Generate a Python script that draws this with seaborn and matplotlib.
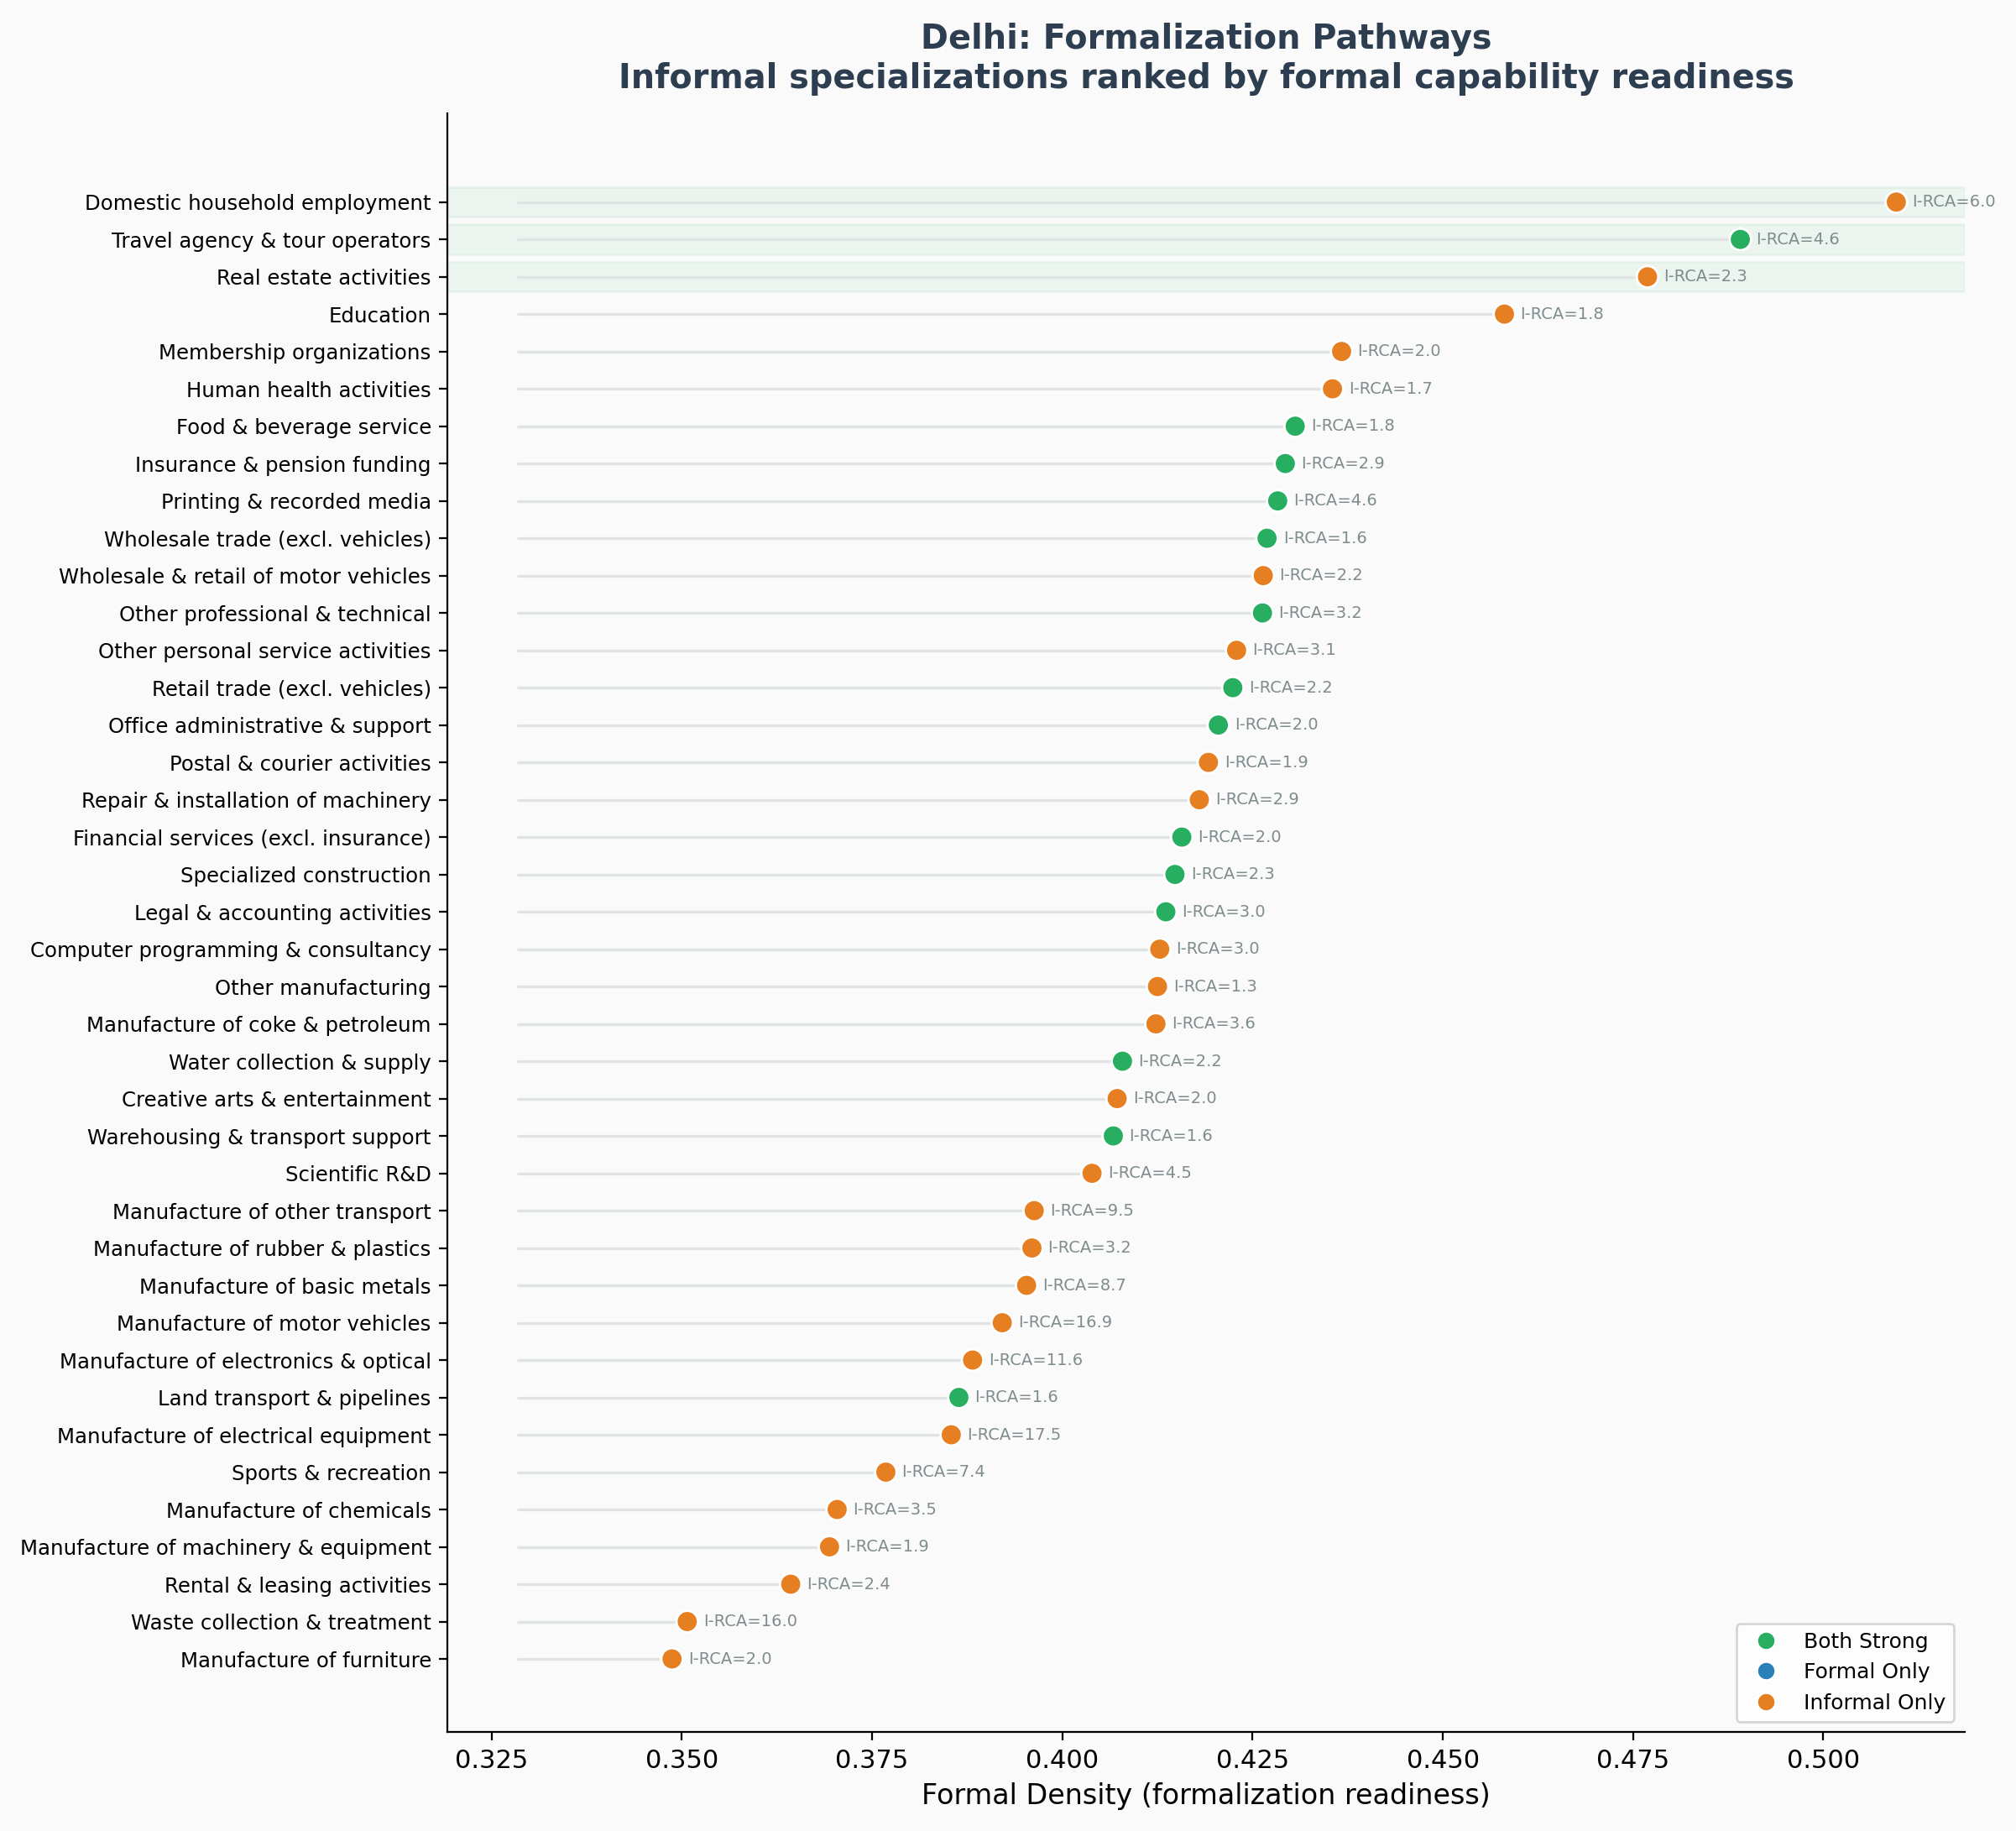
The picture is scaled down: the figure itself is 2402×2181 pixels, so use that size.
import numpy as np
import pandas as pd
import matplotlib
matplotlib.use("Agg")
import matplotlib.pyplot as plt
from matplotlib.lines import Line2D
import seaborn as sns

sectors = [
    "Domestic household employment", "Travel agency & tour operators", "Real estate activities",
    "Education", "Membership organizations", "Human health activities", "Food & beverage service",
    "Insurance & pension funding", "Printing & recorded media", "Wholesale trade (excl. vehicles)",
    "Wholesale & retail of motor vehicles", "Other professional & technical",
    "Other personal service activities", "Retail trade (excl. vehicles)",
    "Office administrative & support", "Postal & courier activities",
    "Repair & installation of machinery", "Financial services (excl. insurance)",
    "Specialized construction", "Legal & accounting activities",
    "Computer programming & consultancy", "Other manufacturing",
    "Manufacture of coke & petroleum", "Water collection & supply",
    "Creative arts & entertainment", "Warehousing & transport support", "Scientific R&D",
    "Manufacture of other transport", "Manufacture of rubber & plastics",
    "Manufacture of basic metals", "Manufacture of motor vehicles",
    "Manufacture of electronics & optical", "Land transport & pipelines",
    "Manufacture of electrical equipment", "Sports & recreation", "Manufacture of chemicals",
    "Manufacture of machinery & equipment", "Rental & leasing activities",
    "Waste collection & treatment", "Manufacture of furniture",
]
formal_density = [
    0.5096, 0.4891, 0.4769, 0.4581, 0.4367, 0.4355, 0.4306, 0.4293, 0.4283, 0.4269,
    0.4264, 0.4263, 0.4229, 0.4224, 0.4205, 0.4192, 0.4180, 0.4157, 0.4148, 0.4136,
    0.4128, 0.4125, 0.4123, 0.4079, 0.4072, 0.4067, 0.4039, 0.3963, 0.3960, 0.3953,
    0.3921, 0.3882, 0.3864, 0.3854, 0.3768, 0.3704, 0.3694, 0.3643, 0.3507, 0.3487,
]
i_rca = [
    6.0, 4.6, 2.3, 1.8, 2.0, 1.7, 1.8, 2.9, 4.6, 1.6,
    2.2, 3.2, 3.1, 2.2, 2.0, 1.9, 2.9, 2.0, 2.3, 3.0,
    3.0, 1.3, 3.6, 2.2, 2.0, 1.6, 4.5, 9.5, 3.2, 8.7,
    16.9, 11.6, 1.6, 17.5, 7.4, 3.5, 1.9, 2.4, 16.0, 2.0,
]
B, I = "Both Strong", "Informal Only"
category = [
    I, B, I, I, I, I, B, B, B, B,
    I, B, I, B, B, I, I, B, B, B,
    I, I, I, B, I, B, I, I, I, I,
    I, I, B, I, I, I, I, I, I, I,
]
categories = ["Both Strong", "Formal Only", "Informal Only"]
colors = ["#27ae60", "#2980b9", "#e67e22"]
palette = dict(zip(categories, colors))

n = len(sectors)
df = pd.DataFrame({
    "sector": sectors,
    "density": formal_density,
    "irca": i_rca,
    "category": category,
})
df["pos"] = n - 1 - np.arange(n)

bg = "#fafafa"
fig = plt.figure(figsize=(12.01, 10.905), dpi=200, facecolor=bg)
ax = fig.add_axes([0.222, 0.054, 0.7526, 0.884])
ax.set_facecolor(bg)

# highlight top 3
for p in df["pos"].iloc[:3]:
    ax.axhspan(p - 0.4, p + 0.4, color="#27ae60", alpha=0.07, zorder=0)

stem_start = df["density"].min() - 0.0204
ax.hlines(df["pos"], stem_start, df["density"], color="#dfe3e3", linewidth=1.2, zorder=1)

sns.scatterplot(data=df, x="density", y="pos", hue="category", hue_order=categories,
                palette=palette, s=85, edgecolor="white", linewidth=1.0,
                legend=False, ax=ax, zorder=3)

for _, r in df.iterrows():
    ax.text(r["density"] + 0.0021, r["pos"], f"I-RCA={r['irca']:.1f}",
            va="center", ha="left", fontsize=7, color="#7f8c8d")

ax.set_yticks(df["pos"])
ax.set_yticklabels(df["sector"], fontsize=8.8)
ax.set_ylim(-1.96, 41.37)
ax.set_xlim(0.3192, 0.5186)
ax.set_xticks([0.325, 0.35, 0.375, 0.4, 0.425, 0.45, 0.475, 0.5])
ax.set_xticklabels(["0.325", "0.350", "0.375", "0.400", "0.425", "0.450", "0.475", "0.500"])
ax.tick_params(axis="x", labelsize=11)
ax.set_xlabel("Formal Density (formalization readiness)", fontsize=12)
ax.set_ylabel("")
for s in ["top", "right"]:
    ax.spines[s].set_visible(False)

ax.set_title("Delhi: Formalization Pathways\nInformal specializations ranked by formal capability readiness",
             fontsize=14.3, fontweight="bold", color="#2c3e50", pad=11)

handles = [Line2D([0], [0], marker="o", linestyle="", markersize=8,
                  markerfacecolor=c, markeredgecolor="white", color=c) for c in colors]
leg = ax.legend(handles, categories, loc="lower right", fontsize=9, frameon=True)
leg.get_frame().set_edgecolor("#cccccc")
leg.get_frame().set_facecolor("white")

fig.savefig("out.png", dpi=200, facecolor=bg)
